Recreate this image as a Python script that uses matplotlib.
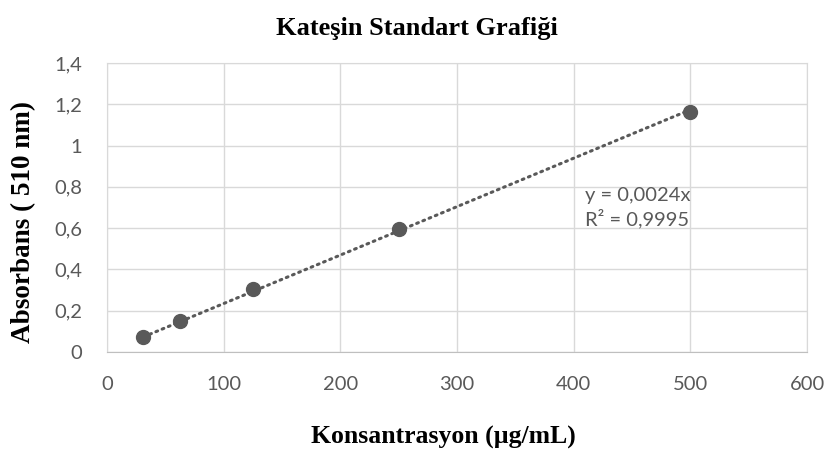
import numpy as np
import matplotlib
matplotlib.use("Agg")
import matplotlib.pyplot as plt

# data
konsantrasyon = [31.25, 62.5, 125, 250, 500]
absorbans = [0.073, 0.148, 0.305, 0.598, 1.165]
denklem = "y = 0,0024x\nR² = 0,9995"

x_ticks = [0, 100, 200, 300, 400, 500, 600]
y_ticks = [0, 0.2, 0.4, 0.6, 0.8, 1.0, 1.2, 1.4]

gri = "#595959"
izgara = "#d9d9d9"

fig = plt.figure(figsize=(8.24, 4.53), dpi=100)
ax = fig.add_axes([0.1299, 0.2230, 0.8495, 0.6379])

# trendline through origin (least squares)
x = np.array(konsantrasyon)
y = np.array(absorbans)
egim = (x * y).sum() / (x * x).sum()
xt = np.array([x.min(), x.max()])
ax.plot(xt, egim * xt, color=gri, lw=2.2, linestyle=(0, (0.6, 1.6)),
        dash_capstyle="round", zorder=2)

ax.plot(konsantrasyon, absorbans, "o", color=gri, markersize=10, zorder=3)

ax.set_xlim(0, 600)
ax.set_ylim(0, 1.4)
ax.set_xticks(x_ticks)
ax.set_yticks(y_ticks)
ax.set_xticklabels([str(v) for v in x_ticks])
ax.set_yticklabels([("%g" % v).replace(".", ",") for v in y_ticks])
ax.tick_params(length=0, labelsize=14.5, labelcolor=gri)
ax.tick_params(axis="x", pad=17)
ax.tick_params(axis="y", pad=18)
for lab in ax.get_xticklabels() + ax.get_yticklabels():
    lab.set_family("Lato")

ax.grid(True, color=izgara, lw=1)
ax.set_axisbelow(True)
for s in ax.spines.values():
    s.set_color(izgara)
ax.spines["bottom"].set_color("#bfbfbf")

ax.text(410, 0.70, denklem, fontsize=14.5, color=gri, family="Lato",
        va="center", ha="left", linespacing=1.3)

fig.text(0.506, 0.938, "Kateşin Standart Grafiği", ha="center", va="center",
         fontsize=19, fontweight="bold", family="Liberation Serif")
fig.text(0.5376, 0.035, "Konsantrasyon (µg/mL)", ha="center", va="center",
         fontsize=18.5, fontweight="bold", family="Liberation Serif")
fig.text(0.029, 0.51, "Absorbans ( 510 nm)", ha="center", va="center",
         rotation=90, fontsize=19.5, fontweight="bold", family="Liberation Serif")

fig.savefig("out.png", dpi=100)
